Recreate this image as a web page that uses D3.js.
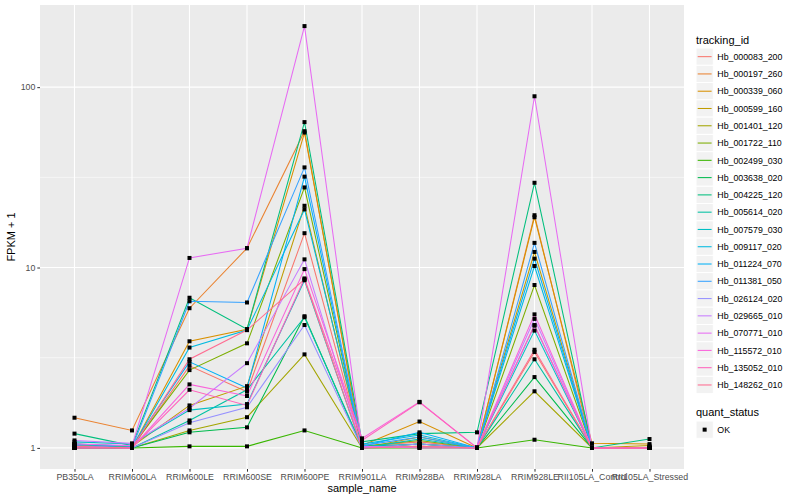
<!DOCTYPE html>
<html>
<head>
<meta charset="utf-8">
<script src="https://cdn.jsdelivr.net/npm/d3@7"></script>
<style>
  body { margin: 0; background: #fff; }
  text { font-family: "Liberation Sans", Arial, sans-serif; }
</style>
</head>
<body>
<svg id="chart" width="800" height="500"></svg>
<script>
const samples = ["PB350LA", "RRIM600LA", "RRIM600LE", "RRIM600SE", "RRIM600PE", "RRIM901LA",
    "RRIM928BA", "RRIM928LA", "RRIM928LE", "RII105LA_Control", "RII105LA_Stressed"];

const trackingIds = ["Hb_000083_200", "Hb_000197_260", "Hb_000339_060", "Hb_000599_160", "Hb_001401_120",
    "Hb_001722_110", "Hb_002499_030", "Hb_003638_020", "Hb_004225_120", "Hb_005614_020",
    "Hb_007579_030", "Hb_009117_020", "Hb_011224_070", "Hb_011381_050", "Hb_026124_020",
    "Hb_029665_010", "Hb_070771_010", "Hb_115572_010", "Hb_135052_010", "Hb_148262_010"];

const colors = ["#F8766D", "#EA8331", "#D89000", "#C09B00", "#A3A500", "#7CAE00", "#39B600", "#00BB4E",
    "#00BF7D", "#00C1A3", "#00BFC4", "#00BAE0", "#00B0F6", "#35A2FF", "#9590FF", "#C77CFF",
    "#E76BF3", "#FA62DB", "#FF62BC", "#FF6C91"];

// FPKM + 1, one row per tracking id, one value per sample
const fpkm = [
    [1.02, 1.0, 2.85, 2.05, 15.5, 1.02, 1.08, 1.0, 3.4, 1.0, 1.0],
    [1.47, 1.25, 5.95, 12.8, 57, 1.0, 1.05, 1.0, 19.5, 1.0, 1.0],
    [1.0, 1.0, 3.9, 4.55, 56, 1.03, 1.4, 1.0, 19, 1.06, 1.05],
    [1.03, 1.02, 1.72, 2.2, 22, 1.0, 1.15, 1.0, 12.2, 1.0, 1.03],
    [1.0, 1.0, 1.25, 1.48, 3.3, 1.0, 1.02, 1.0, 2.06, 1.0, 1.0],
    [1.05, 1.02, 2.7, 3.8, 27.8, 1.02, 1.1, 1.0, 8.0, 1.0, 1.0],
    [1.0, 1.0, 1.02, 1.02, 1.25, 1.0, 1.0, 1.0, 1.11, 1.0, 1.0],
    [1.0, 1.0, 1.22, 1.3, 5.37, 1.0, 1.05, 1.0, 2.47, 1.0, 1.0],
    [1.2, 1.03, 6.8, 4.55, 64, 1.08, 1.2, 1.22, 29.5, 1.0, 1.12],
    [1.05, 1.0, 1.42, 2.1, 5.3, 1.02, 1.05, 1.0, 3.1, 1.0, 1.0],
    [1.08, 1.05, 1.62, 1.75, 8.5, 1.0, 1.12, 1.0, 4.47, 1.0, 1.0],
    [1.02, 1.0, 3.6, 4.5, 21, 1.05, 1.18, 1.0, 10.2, 1.0, 1.0],
    [1.05, 1.02, 3.0, 2.15, 31.9, 1.02, 1.22, 1.0, 11.2, 1.0, 1.0],
    [1.03, 1.0, 6.5, 6.4, 35.9, 1.03, 1.15, 1.0, 13.7, 1.0, 1.0],
    [1.02, 1.0, 1.38, 1.68, 4.8, 1.0, 1.05, 1.0, 4.76, 1.0, 1.0],
    [1.1, 1.06, 1.66, 2.95, 11.1, 1.0, 1.02, 1.0, 5.19, 1.0, 1.0],
    [1.05, 1.03, 11.3, 12.8, 218, 1.02, 1.0, 1.0, 89, 1.0, 1.0],
    [1.0, 1.0, 2.25, 1.94, 9.8, 1.13, 1.8, 1.0, 5.5, 1.0, 1.0],
    [1.0, 1.0, 2.1, 1.72, 8.7, 1.1, 1.79, 1.0, 4.8, 1.0, 1.0],
    [1.02, 1.0, 3.1, 4.5, 8.6, 1.0, 1.02, 1.0, 3.5, 1.0, 1.0]
];

const yTicks = [1, 10, 100];
const yMinor = [Math.sqrt(10), Math.sqrt(1000)];

const svg = d3.select("#chart");
const pLeft = 40, pRight = 684, pTop = 5, pBottom = 469;

const x = d3.scalePoint().domain(samples).range([pLeft, pRight]).padding(0.6);

const all = fpkm.flat();
const lo = Math.log10(d3.min(all)), hi = Math.log10(d3.max(all));
const pad = (hi - lo) * 0.05;
const y = d3.scaleLog().domain([10 ** (lo - pad), 10 ** (hi + pad)]).range([pBottom, pTop]);

// panel
svg.append("rect").attr("x", pLeft).attr("y", pTop)
    .attr("width", pRight - pLeft).attr("height", pBottom - pTop).attr("fill", "#EBEBEB");

svg.append("g").selectAll("line").data(yMinor).join("line")
    .attr("x1", pLeft).attr("x2", pRight)
    .attr("y1", d => y(d)).attr("y2", d => y(d))
    .attr("stroke", "#fff").attr("stroke-width", 0.55);

svg.append("g").selectAll("line").data(yTicks).join("line")
    .attr("x1", pLeft).attr("x2", pRight)
    .attr("y1", d => y(d)).attr("y2", d => y(d))
    .attr("stroke", "#fff").attr("stroke-width", 1.1);

svg.append("g").selectAll("line").data(samples).join("line")
    .attr("y1", pTop).attr("y2", pBottom)
    .attr("x1", d => x(d)).attr("x2", d => x(d))
    .attr("stroke", "#fff").attr("stroke-width", 1.1);

// series
const line = d3.line().x((d, i) => x(samples[i])).y(d => y(d));

svg.append("g").selectAll("path").data(fpkm).join("path")
    .attr("d", line)
    .attr("fill", "none")
    .attr("stroke", (d, i) => colors[i])
    .attr("stroke-width", 1.05);

svg.append("g").selectAll("g").data(fpkm).join("g")
    .selectAll("rect").data(d => d).join("rect")
    .attr("x", (d, i) => x(samples[i]) - 2)
    .attr("y", d => y(d) - 2)
    .attr("width", 4).attr("height", 4)
    .attr("fill", "#000");

// axes
const yAxis = svg.append("g").attr("transform", `translate(${pLeft},0)`)
    .call(d3.axisLeft(y).tickValues(yTicks).tickFormat(d3.format("d")).tickSize(2.7).tickPadding(2));
yAxis.select(".domain").remove();
yAxis.selectAll("line").attr("stroke", "#333");
yAxis.selectAll("text").attr("fill", "#4D4D4D").style("font-size", "8.8px")
    .style("font-family", "'Liberation Sans', Arial, sans-serif");

const xAxis = svg.append("g").attr("transform", `translate(0,${pBottom})`)
    .call(d3.axisBottom(x).tickSize(2.7).tickPadding(2));
xAxis.select(".domain").remove();
xAxis.selectAll("line").attr("stroke", "#333");
xAxis.selectAll("text").attr("fill", "#4D4D4D").style("font-size", "8.8px")
    .style("font-family", "'Liberation Sans', Arial, sans-serif");

svg.append("text").attr("x", (pLeft + pRight) / 2).attr("y", 492)
    .attr("text-anchor", "middle").style("font-size", "11px").text("sample_name");

svg.append("text").attr("transform", `translate(15,${(pTop + pBottom) / 2}) rotate(-90)`)
    .attr("text-anchor", "middle").style("font-size", "11px").text("FPKM + 1");

// legend: tracking_id
const keyX = 696, keyW = 17.3, step = 17.28, key0 = 48;
svg.append("text").attr("x", keyX).attr("y", 44).style("font-size", "11px").text("tracking_id");

const keys = svg.append("g").selectAll("g").data(trackingIds).join("g")
    .attr("transform", (d, i) => `translate(${keyX},${key0 + i * step})`);
keys.append("rect").attr("width", keyW).attr("height", keyW)
    .attr("fill", "#F2F2F2").attr("stroke", "#fff").attr("stroke-width", 1);
keys.append("line").attr("x1", 1.7).attr("x2", keyW - 1.7)
    .attr("y1", keyW / 2).attr("y2", keyW / 2)
    .attr("stroke", (d, i) => colors[i]).attr("stroke-width", 1.05);
keys.append("text").attr("x", keyW + 4).attr("y", keyW / 2 + 3.2)
    .style("font-size", "8.8px").text(d => d);

// legend: quant_status
svg.append("text").attr("x", keyX).attr("y", 415.5).style("font-size", "11px").text("quant_status");
const ok = svg.append("g").attr("transform", `translate(${keyX},421)`);
ok.append("rect").attr("width", keyW).attr("height", keyW)
    .attr("fill", "#F2F2F2").attr("stroke", "#fff");
ok.append("rect").attr("x", keyW / 2 - 2).attr("y", keyW / 2 - 2).attr("width", 4).attr("height", 4).attr("fill", "#000");
ok.append("text").attr("x", keyW + 4).attr("y", keyW / 2 + 3.2).style("font-size", "8.8px").text("OK");
</script>
</body>
</html>
